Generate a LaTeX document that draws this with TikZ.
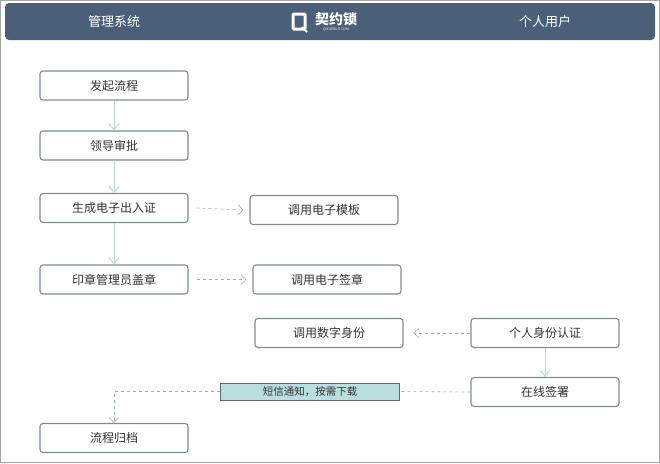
\documentclass[tikz,border=0pt]{standalone}
\usepackage{fontspec}
\setmainfont{Noto Sans CJK SC}
\usetikzlibrary{arrows.meta}
\definecolor{hdr}{HTML}{4B5F78}
\definecolor{bx}{HTML}{7F8C96}
\definecolor{ar}{HTML}{B5DAE2}
\definecolor{dsh}{HTML}{9AAAB4}
\definecolor{lbl}{HTML}{B9DEDE}
\begin{document}
\begin{tikzpicture}[x=1pt,y=-1pt,
  box/.style={draw=bx,line width=1.1pt,rounded corners=3pt,minimum width=148pt,minimum height=29pt,font=\fontsize{12}{14}\selectfont,text=black!80,fill=white},
  solidarr/.style={draw=ar,line width=1pt,-{Straight Barb[length=6pt,width=10pt]}},
  dasharr/.style={draw=dsh,dashed,line width=0.6pt,-{Straight Barb[length=5pt,width=10pt]}},
  dashline/.style={draw=dsh,dashed,line width=0.6pt}]
\draw[draw=gray!70,line width=1pt,fill=white] (0.5,0.5) rectangle (659.5,462.5);
\node[fill=hdr,rounded corners=4pt,minimum width=650pt,minimum height=37pt,inner sep=0pt] (hdr) at (330,21.5) {};
\node[text=white,font=\fontsize{13}{15}\selectfont] (h1) at (114,21.5) {管理系统};
\node[text=white,font=\fontsize{13}{15}\selectfont] (h2) at (545,21.5) {个人用户};
\node[text=white,font=\bfseries\fontsize{14}{16}\selectfont,inner sep=0pt] (logo) at (336,19) {契约锁};
\node[text=white,font=\fontsize{3.5}{4}\selectfont,inner sep=0pt] (logo2) at (336,30) {QIYUESUO.COM};
\draw[white,line width=3pt,rounded corners=1pt] (293,14) rectangle (305,29);
\draw[white,line width=2pt] (302,27) -- (307,32);
\node[box] (a) at (114,85.5) {发起流程};
\node[box] (b) at (114,145.5) {领导审批};
\node[box] (c) at (114,208) {生成电子出入证};
\node[box] (d) at (324,210) {调用电子模板};
\node[box] (e) at (114,279.5) {印章管理员盖章};
\node[box] (f) at (327,279.5) {调用电子签章};
\node[box] (g) at (329,333) {调用数字身份};
\node[box] (h) at (545,333) {个人身份认证};
\node[box] (i) at (545,392) {在线签署};
\node[box] (j) at (114,438) {流程归档};
\node[draw=gray!80!black,line width=1pt,fill=lbl,minimum width=179pt,minimum height=17pt,inner sep=0pt,font=\fontsize{10.5}{12}\selectfont,text=black!80] (l) at (310,391.5) {短信通知，按需下载};
\coordinate (k) at (114,391.5);
\draw[solidarr] (a) -- (b);
\draw[solidarr] (b) -- (c);
\draw[solidarr] (c) -- (e);
\draw[solidarr] (h) -- (i);
\draw[dasharr] (c.east) ++(8,0) -- ([xshift=-6pt]d.west);
\draw[dasharr] (e.east) ++(8,0) -- ([xshift=-6pt]f.west);
\draw[dasharr] (h.west) -- ([xshift=10pt]g.east);
\draw[dashline] (i.west) -- (l.east);
\draw[dasharr] (l.west) -- (k) -- (j.north);
\end{tikzpicture}
\end{document}
